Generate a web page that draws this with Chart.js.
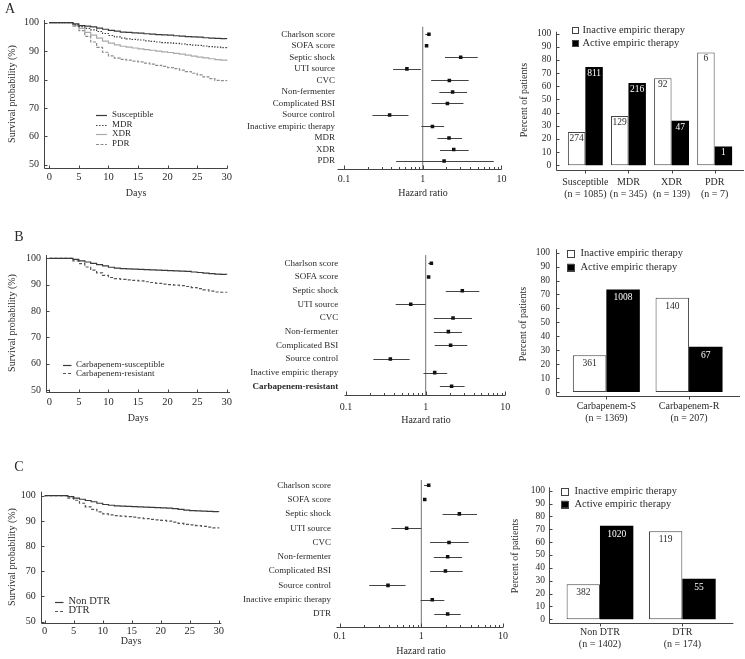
<!DOCTYPE html>
<html>
<head>
<meta charset="utf-8">
<script src="https://cdn.jsdelivr.net/npm/chart.js@4.4.0/dist/chart.umd.min.js"></script>
<style>
body { margin: 0; background: #fff; width: 745px; height: 659px; position: relative; overflow: hidden; }
canvas { position: absolute; left: 0; top: 0; }
</style>
</head>
<body>
<script>
// ---- data ----
var days = [0,1,2,3,4,5,6,7,8,9,10,11,12,13,14,15,16,17,18,19,20,21,22,23,24,25,26,27,28,29,30];
var dayTicks = [0,5,10,15,20,25,30];
var survTicks = [50,60,70,80,90,100];
var pctTicks = [0,10,20,30,40,50,60,70,80,90,100];
var hrTicks = [0.1,0.2,0.3,0.4,0.5,0.6,0.7,0.8,0.9,1,2,3,4,5,6,7,8,9,10];
var hrTickLabels = ['0.1','','','','','','','','','1','','','','','','','','','10'];

// A: survival by resistance
var survSusc = [100,100,100,100,99.6,99.0,98.8,98.5,98.1,97.7,97.3,97.0,96.7,96.6,96.4,96.3,96.1,96.0,95.8,95.7,95.6,95.4,95.3,95.1,95.0,94.9,94.7,94.6,94.5,94.4,94.3];
var survMDR = [100,100,100,100,99.3,98.6,98.0,97.5,96.9,96.2,95.5,95.0,94.6,94.3,94.1,93.9,93.6,93.4,93.2,93.0,92.9,92.7,92.5,92.3,92.1,92.0,91.8,91.6,91.4,91.2,91.1];
var survXDR = [100,100,100,100,99.0,98.0,96.6,95.6,94.6,93.5,92.8,92.2,91.7,91.4,91.1,90.8,90.5,90.3,90.0,89.7,89.5,89.2,88.9,88.6,88.2,87.9,87.6,87.3,87.0,86.8,86.5];
var survPDR = [100,100,100,100,98.8,97.2,95.2,93.2,91.3,89.6,88.3,87.5,87.1,86.8,86.5,86.2,85.8,85.4,85.0,84.6,84.2,83.8,83.3,82.8,82.2,81.6,80.9,80.3,79.7,79.6,79.5];
// B: carbapenem
var survCS = [100,100,100,100,99.6,99.0,98.6,98.1,97.6,97.1,96.6,96.3,96.1,96.0,95.9,95.8,95.7,95.6,95.5,95.4,95.3,95.2,95.1,95.0,94.8,94.6,94.4,94.2,94.0,93.9,93.8];
var survCR = [100,100,100,100,99.0,98.0,96.7,95.5,94.5,93.5,92.7,92.3,92.0,91.8,91.6,91.4,91.1,90.8,90.5,90.2,90.0,89.8,89.6,89.3,88.9,88.5,88.0,87.5,87.2,87.1,87.0];
// C: DTR
var survNonDTR = [100,100,100,100,99.6,99.0,98.6,98.1,97.6,97.0,96.5,96.2,96.0,95.9,95.8,95.7,95.6,95.5,95.4,95.3,95.2,95.1,94.9,94.6,94.3,94.1,94.0,93.9,93.8,93.7,93.6];
var survDTR = [100,100,100,100,99.0,98.2,97.0,95.6,94.6,93.6,92.8,92.4,92.1,91.9,91.7,91.5,91.2,90.9,90.6,90.4,90.2,89.9,89.5,89.0,88.6,88.4,88.1,87.8,87.5,87.2,87.0];

// forest plots
var forestA = ['Charlson score','SOFA score','Septic shock','UTI source','CVC','Non-fermenter','Complicated BSI','Source control','Inactive empiric therapy','MDR','XDR','PDR'];
var hrA = [1.2,1.12,3.04,0.63,2.18,2.4,2.06,0.38,1.33,2.16,2.48,1.87];
var loA = [1.08,1.1,1.92,0.42,1.28,1.63,1.3,0.23,0.96,1.54,1.66,0.46];
var hiA = [1.24,1.15,5.0,0.95,3.84,3.66,3.29,0.66,1.87,3.16,3.84,8.0];

var forestB = ['Charlson score','SOFA score','Septic shock','UTI source','CVC','Non-fermenter','Complicated BSI','Source control','Inactive empiric therapy','Carbapenem-resistant'];
var hrB = [1.18,1.09,2.89,0.65,2.21,1.93,2.06,0.36,1.30,2.12];
var loB = [1.08,1.07,1.79,0.42,1.27,1.27,1.30,0.22,0.94,1.51];
var hiB = [1.24,1.12,4.73,1.0,3.83,2.86,3.34,0.63,1.87,3.09];

var forestC = ['Charlson score','SOFA score','Septic shock','UTI source','CVC','Non-fermenter','Complicated BSI','Source control','Inactive empiric therapy','DTR'];
var hrC = [1.23,1.1,2.92,0.66,2.18,2.1,1.97,0.39,1.36,2.1];
var loC = [1.08,1.08,1.82,0.43,1.28,1.42,1.28,0.23,0.98,1.44];
var hiC = [1.28,1.12,4.8,1.0,3.8,3.15,3.21,0.64,1.91,3.03];

// bar charts: percent of patients and counts
var barCatsA = [['Susceptible','(n = 1085)'],['MDR','(n = 345)'],['XDR','(n = 139)'],['PDR','(n = 7)']];
var inactPctA = [25.3,37.4,66.2,85.7];
var actPctA = [74.7,62.6,33.8,14.3];
var inactNA = [274,129,92,6];
var actNA = [811,216,47,1];

var barCatsB = [['Carbapenem-S','(n = 1369)'],['Carbapenem-R','(n = 207)']];
var inactPctB = [26.4,67.6];
var actPctB = [73.6,32.4];
var inactNB = [361,140];
var actNB = [1008,67];

var barCatsC = [['Non DTR','(n = 1402)'],['DTR','(n = 174)']];
var inactPctC = [27.2,68.4];
var actPctC = [72.8,31.6];
var inactNC = [382,119];
var actNC = [1020,55];

// ---- setup ----
var W = 745, H = 659;
var SERIF = "'Liberation Serif', 'DejaVu Serif', serif";
var INK = '#2a2a2a';
Chart.defaults.font.family = SERIF;
Chart.defaults.color = INK;
Chart.defaults.animation = false;
Chart.defaults.responsive = false;
Chart.defaults.plugins.legend.display = false;
Chart.defaults.plugins.tooltip.enabled = false;

// the scales take all the room left of / below the plot, so the plot box lands where it should
function pad(l, r, t, b) { return { left: 0, right: W - r, top: t, bottom: 0 }; }
function zeroPad(s) { s.paddingTop = 0; s.paddingBottom = 0; s.paddingLeft = 0; s.paddingRight = 0; }
function fitW(w) { return function (s) { s.width = w; zeroPad(s); }; }
function fitH(h) { return function (s) { s.height = h; zeroPad(s); }; }
function fixTicks(list) { return function (s) { s.ticks = list.map(function (v) { return { value: v }; }); }; }
function pts(xs, ys) { return xs.map(function (x, i) { return { x: x, y: ys[i] }; }); }
function hline(ctx, x1, y, x2) { ctx.moveTo(x1, y); ctx.lineTo(x2, y); }

function addChart(cfg) {
  var c = document.createElement('canvas');
  c.width = W; c.height = H;
  document.body.appendChild(c);
  return new Chart(c, cfg);
}

// axis titles and panel letters
var notesPlugin = {
  id: 'notes',
  afterDraw: function (chart, args, o) {
    var ctx = chart.ctx;
    (o.items || []).forEach(function (n) {
      ctx.save();
      ctx.font = (n.size || 10) + 'px ' + SERIF;
      ctx.fillStyle = INK;
      ctx.textAlign = 'center';
      ctx.textBaseline = 'middle';
      ctx.translate(n.x, n.y);
      if (n.rot) ctx.rotate(-Math.PI / 2);
      ctx.fillText(n.text, 0, 0);
      ctx.restore();
    });
  }
};

// axis lines + inward tick marks
var framePlugin = {
  id: 'frame',
  afterDraw: function (chart, args, o) {
    var ctx = chart.ctx, a = chart.chartArea, xs = chart.scales.x, ys = chart.scales.y;
    var L = Math.round(a.left - (o.extL || 0)) + 0.5;
    var R = a.right + (o.extR || 0);
    var B = Math.round(a.bottom) + 0.5;
    ctx.save();
    ctx.strokeStyle = '#444';
    ctx.lineWidth = 1;
    ctx.beginPath();
    if (o.yLine) { ctx.moveTo(L, a.top); ctx.lineTo(L, B); }
    hline(ctx, L, B, R);
    if (o.yTick) {
      ys.ticks.forEach(function (t) {
        var y = Math.round(ys.getPixelForValue(t.value)) + 0.5;
        hline(ctx, L, y, L + o.yTick);
      });
    }
    if (o.xTick) {
      xs.ticks.forEach(function (t, i) {
        var x = Math.round(xs.getPixelForTick(i)) + 0.5;
        var len = o.xTick;
        if (o.logMajor) {
          var lg = Math.log10(t.value);
          if (Math.abs(lg - Math.round(lg)) < 1e-6) len = o.logMajor;
        }
        ctx.moveTo(x, B); ctx.lineTo(x, B + len);
      });
    }
    ctx.stroke();
    ctx.restore();
  }
};

// legend drawn at a fixed spot from the datasets
var keyPlugin = {
  id: 'key',
  afterDraw: function (chart, args, o) {
    var ctx = chart.ctx;
    ctx.save();
    ctx.font = o.size + 'px ' + SERIF;
    ctx.textBaseline = 'middle';
    ctx.textAlign = 'left';
    chart.data.datasets.forEach(function (ds, i) {
      var y = o.y + i * o.dy;
      if (o.kind === 'line') {
        ctx.beginPath();
        ctx.setLineDash(ds.borderDash || []);
        ctx.strokeStyle = ds.borderColor;
        ctx.lineWidth = ds.borderWidth;
        hline(ctx, o.x, Math.round(y) + 0.5, o.x + o.len);
        ctx.stroke();
        ctx.setLineDash([]);
      } else {
        ctx.fillStyle = ds.backgroundColor;
        ctx.fillRect(o.x, y - o.len / 2, o.len, o.len);
        ctx.strokeStyle = '#444';
        ctx.lineWidth = 1;
        ctx.strokeRect(Math.round(o.x) + 0.5, Math.round(y - o.len / 2) + 0.5, o.len, o.len);
      }
      ctx.fillStyle = INK;
      ctx.fillText(ds.label, o.x + o.len + o.gap, y);
    });
    ctx.restore();
  }
};

// reference line at HR = 1 and confidence intervals
var forestPlugin = {
  id: 'forest',
  beforeDatasetsDraw: function (chart, args, o) {
    var ctx = chart.ctx, a = chart.chartArea, xs = chart.scales.x, ys = chart.scales.y;
    ctx.save();
    ctx.beginPath();
    ctx.strokeStyle = '#8a8a8a';
    ctx.lineWidth = 1.2;
    var x1 = xs.getPixelForValue(1);
    ctx.moveTo(x1, a.top); ctx.lineTo(x1, a.bottom);
    ctx.stroke();
    ctx.beginPath();
    ctx.strokeStyle = '#444';
    ctx.lineWidth = 1;
    o.lo.forEach(function (lo, i) {
      var y = Math.round(ys.getPixelForValue(i)) + 0.5;
      hline(ctx, xs.getPixelForValue(lo), y, xs.getPixelForValue(o.hi[i]));
    });
    ctx.stroke();
    ctx.restore();
  }
};

// counts written inside the bars
var countPlugin = {
  id: 'counts',
  afterDatasetsDraw: function (chart, args, o) {
    var ctx = chart.ctx;
    ctx.save();
    ctx.font = o.size + 'px ' + SERIF;
    ctx.textAlign = 'center';
    ctx.textBaseline = 'middle';
    chart.data.datasets.forEach(function (ds, di) {
      chart.getDatasetMeta(di).data.forEach(function (bar, j) {
        ctx.fillStyle = ds.textColor;
        ctx.fillText(String(ds.counts[j]), bar.x, bar.y + o.offset);
      });
    });
    ctx.restore();
  }
};

// ---- survival ----
function survChart(sets, area, xr, yr, key, xpad, notes) {
  addChart({
    type: 'line',
    data: { datasets: sets },
    options: {
      layout: { padding: pad(area[0], area[1], area[2], area[3]) },
      elements: { point: { radius: 0 }, line: { tension: 0 } },
      scales: {
        x: { type: 'linear', bounds: 'data', min: xr[0], max: xr[1], afterFit: fitH(H - area[3]), afterBuildTicks: fixTicks(dayTicks),
             grid: { display: false, drawTicks: false }, border: { display: false },
             ticks: { padding: xpad, font: { size: 10.5 }, autoSkip: false, maxRotation: 0 } },
        y: { type: 'linear', bounds: 'data', min: yr[0], max: yr[1], afterFit: fitW(area[0]), afterBuildTicks: fixTicks(survTicks),
             grid: { display: false, drawTicks: false }, border: { display: false },
             ticks: { padding: 5, font: { size: 10 }, autoSkip: false } }
      },
      plugins: { frame: { yLine: true, yTick: 3, xTick: -3 }, key: key, notes: { items: notes } }
    },
    plugins: [framePlugin, keyPlugin, notesPlugin]
  });
}
function survSet(label, vals, color, dash, width) {
  return { label: label, data: pts(days, vals), borderColor: color, borderDash: dash, borderWidth: width, stepped: true, fill: false };
}

survChart([
  survSet('Susceptible', survSusc, '#3a3a3a', [], 1.2),
  survSet('MDR', survMDR, '#444', [1.5, 1.5], 1.2),
  survSet('XDR', survXDR, '#aaaaaa', [], 1.2),
  survSet('PDR', survPDR, '#8c8c8c', [3, 1.5], 1.2)
], [44, 227.7, 20, 168], [-0.9, 30.17], [48.84, 100.95],
  { kind: 'line', x: 96, y: 115, dy: 9.5, len: 11, gap: 5, size: 9 }, 3,
  [{ text: 'A', x: 10, y: 9, size: 14 }, { text: 'Days', x: 136, y: 193 },
   { text: 'Survival probability (%)', x: 12, y: 94, rot: true }]);

survChart([
  survSet('Carbapenem-susceptible', survCS, '#3a3a3a', [], 1.2),
  survSet('Carbapenem-resistant', survCR, '#555', [3, 2], 1.2)
], [46, 230, 255, 391.7], [-0.56, 30.56], [49.35, 101.25],
  { kind: 'line', x: 63, y: 365, dy: 8.4, len: 8.5, gap: 4.5, size: 9 }, 4.6,
  [{ text: 'B', x: 19, y: 237, size: 14 }, { text: 'Days', x: 138, y: 418 },
   { text: 'Survival probability (%)', x: 12, y: 323, rot: true }]);

survChart([
  survSet('Non DTR', survNonDTR, '#3a3a3a', [], 1.2),
  survSet('DTR', survDTR, '#555', [3, 2], 1.2)
], [40.7, 221.3, 491.7, 623.3], [-0.69, 30.45], [49.33, 101.59],
  { kind: 'line', x: 55, y: 601.7, dy: 9, len: 8.5, gap: 5, size: 10.5 }, 1.6,
  [{ text: 'C', x: 19, y: 467, size: 14 }, { text: 'Days', x: 131, y: 641 },
   { text: 'Survival probability (%)', x: 12, y: 557, rot: true }]);

// ---- forest ----
function forestChart(labels, hr, lo, hi, area, xmin, yr, ypad, xpad, boldIdx, notes) {
  addChart({
    type: 'scatter',
    data: { datasets: [{ label: 'HR', data: hr.map(function (v, i) { return { x: v, y: i }; }),
      pointStyle: 'rect', pointRadius: 2.5, backgroundColor: '#111', borderWidth: 0 }] },
    options: {
      layout: { padding: pad(area[0], area[1], area[2], area[3]) },
      scales: {
        x: { type: 'logarithmic', bounds: 'data', min: xmin, max: 10, afterFit: fitH(H - area[3]), afterBuildTicks: fixTicks(hrTicks),
             grid: { display: false, drawTicks: false }, border: { display: false },
             ticks: { padding: xpad, font: { size: 10 }, autoSkip: false, maxRotation: 0,
                      callback: function (v, i) { return hrTickLabels[i]; } } },
        y: { type: 'linear', reverse: true, bounds: 'data', min: yr[0], max: yr[1], afterFit: fitW(area[0]),
             afterBuildTicks: fixTicks(labels.map(function (l, i) { return i; })),
             grid: { display: false, drawTicks: false }, border: { display: false },
             ticks: { padding: ypad, autoSkip: false,
                      font: function (c) { return { size: 9, weight: c.index === boldIdx ? 'bold' : 'normal' }; },
                      callback: function (v) { return labels[v]; } } }
      },
      plugins: { frame: { yLine: false, xTick: -2.5, logMajor: -4 }, forest: { lo: lo, hi: hi }, notes: { items: notes } }
    },
    plugins: [forestPlugin, framePlugin, notesPlugin]
  });
}

forestChart(forestA, hrA, loA, hiA, [337.3, 501.4, 26.7, 169], 0.0822, [-0.66, 11.69], 2.3, 4, -1,
  [{ text: 'Hazard ratio', x: 423, y: 193 }]);
forestChart(forestB, hrB, loB, hiB, [344.3, 505.2, 255, 395.3], 0.095, [-0.61, 9.66], 6, 6, 9,
  [{ text: 'Hazard ratio', x: 426, y: 420 }]);
forestChart(forestC, hrC, loC, hiC, [336, 503, 480, 626.7], 0.090, [-0.37, 9.89], 5, 4, -1,
  [{ text: 'Hazard ratio', x: 421, y: 651 }]);

// ---- bars ----
function barChart(cats, inPct, acPct, inN, acN, area, yr, ext, ypad, xpad, key, offset, notes) {
  addChart({
    type: 'bar',
    data: {
      labels: cats,
      datasets: [
        { label: 'Inactive empiric therapy', data: inPct, counts: inN, textColor: INK,
          backgroundColor: '#ffffff', borderColor: '#444', borderWidth: 1, borderSkipped: false },
        { label: 'Active empiric therapy', data: acPct, counts: acN, textColor: '#ffffff',
          backgroundColor: '#000000', borderColor: '#000000', borderWidth: 0 }
      ]
    },
    options: {
      layout: { padding: pad(area[0], area[1], area[2], area[3]) },
      datasets: { bar: { barPercentage: 1, categoryPercentage: 0.81 } },
      scales: {
        x: { afterFit: fitH(H - area[3]), grid: { display: false, drawTicks: false }, border: { display: false },
             ticks: { padding: xpad, font: { size: 10, lineHeight: 1.15 }, autoSkip: false, maxRotation: 0 } },
        y: { type: 'linear', bounds: 'data', min: yr[0], max: yr[1], afterFit: fitW(area[0]), afterBuildTicks: fixTicks(pctTicks),
             grid: { display: false, drawTicks: false }, border: { display: false },
             ticks: { padding: ypad, font: { size: 9.5 }, autoSkip: false } }
      },
      plugins: { frame: { yLine: true, extL: ext[0], extR: ext[1], yTick: 3, xTick: 3 },
                 key: key, counts: { size: 9.5, offset: offset }, notes: { items: notes } }
    },
    plugins: [countPlugin, framePlugin, keyPlugin, notesPlugin]
  });
}

barChart(barCatsA, inactPctA, actPctA, inactNA, actNA, [563.8, 736.2, 31.7, 170], [-3.57, 101.5], [8.1, 7.8], 12.6, 7,
  { kind: 'box', x: 572, y: 30.3, dy: 13, len: 6, gap: 4.5, size: 10.5 }, 6.5,
  [{ text: 'Percent of patients', x: 524, y: 100, rot: true }]);
barChart(barCatsB, inactPctB, actPctB, inactNB, actNB, [565, 730.4, 249.3, 396], [-2.87, 102.4], [9.3, 9.6], 15, 5,
  { kind: 'box', x: 567, y: 253.7, dy: 13.6, len: 7, gap: 6.5, size: 10.5 }, 8.5,
  [{ text: 'Percent of patients', x: 523, y: 324, rot: true }]);
barChart(barCatsC, inactPctC, actPctC, inactNC, actNC, [558.8, 723.5, 487.3, 622.7], [-2.64, 102.6], [9.5, 9.8], 13.8, 4.3,
  { kind: 'box', x: 561, y: 491.7, dy: 12.6, len: 7, gap: 6.5, size: 10.5 }, 8.5,
  [{ text: 'Percent of patients', x: 515, y: 556, rot: true }]);
</script>
</body>
</html>
